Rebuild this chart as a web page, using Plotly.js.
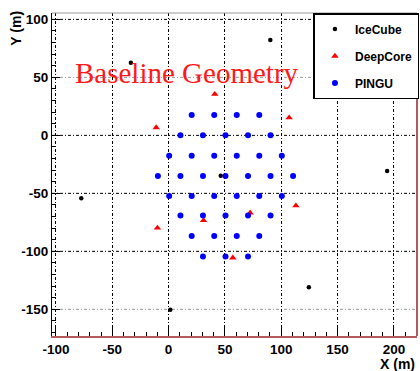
<!DOCTYPE html>
<html>
<head>
<meta charset="utf-8">
<script src="https://cdn.plot.ly/plotly-3.0.1.min.js"></script>
<style>html,body{margin:0;padding:0;background:#fff;}#chart{width:420px;height:371px;}</style>
</head>
<body>
<div id="chart"></div>
<script>
// IceCube strings in view (X, Y in m)
const iceX = [-33.5, 90.3, 194.0, -77.5, 1.5, 124.5, 46.3];
const iceY = [62.7, 82.2, -30.8, -54.3, -150.4, -130.9, -34.9];

// DeepCore strings
const deepX = [-11.0, 41.0, 107.0, -9.9, 31.0, 57.0, 113.0, 72.4];
const deepY = [6.7, 35.5, 15.2, -79.8, -73.4, -105.6, -60.6, -66.8];

// PINGU strings (row by row, top to bottom)
const pinguX = [
  20.5, 40.5, 60.5, 80.5,
  10.5, 30.5, 50.5, 70.5, 90.5,
  0.5, 20.5, 40.5, 60.5, 80.5, 100.5,
  -9.5, 10.5, 30.5, 50.5, 70.5, 90.5, 110.5,
  0.5, 20.5, 40.5, 60.5, 80.5, 100.5,
  10.5, 30.5, 50.5, 70.5, 90.5,
  20.5, 40.5, 60.5, 80.5,
  30.5, 50.5, 70.5
];
const pinguY = [
  17.5, 17.5, 17.5, 17.5,
  0, 0, 0, 0, 0,
  -17.6, -17.6, -17.6, -17.6, -17.6, -17.6,
  -35, -35, -35, -35, -35, -35, -35,
  -52.3, -52.3, -52.3, -52.3, -52.3, -52.3,
  -69.2, -69.2, -69.2, -69.2, -69.2,
  -86.8, -86.8, -86.8, -86.8,
  -104.5, -104.5, -104.5
];

const xTicks = [-100, -50, 0, 50, 100, 150, 200];
const yTicks = [100, 50, 0, -50, -100, -150];
const seriesNames = ['IceCube', 'DeepCore', 'PINGU'];
const titleText = 'Baseline Geometry';

const sans = 'Liberation Sans, Arial, sans-serif';
const gridDash = '3px,2px,1px,2px';
const lightGrid = new Set([50, -150]);

const traces = [
  {x: iceX, y: iceY, type: 'scatter', mode: 'markers', name: seriesNames[0], legendgroup: 'a',
   marker: {symbol: 'circle', size: 4.5, color: '#000000'}},
  {x: deepX, y: deepY, type: 'scatter', mode: 'markers', name: seriesNames[1], legendgroup: 'b',
   marker: {symbol: 'triangle-up', size: 6.5, color: '#ff0000'}},
  {x: pinguX, y: pinguY, type: 'scatter', mode: 'markers', name: seriesNames[2], legendgroup: 'c',
   marker: {symbol: 'circle', size: 6, color: '#0000ff'}}
];

const shapes = yTicks.map(v => ({
  type: 'line', xref: 'paper', x0: 0, x1: 1, yref: 'y', y0: v, y1: v, layer: 'below',
  line: {color: lightGrid.has(v) ? '#9a9a9a' : '#000000', width: 1, dash: gridDash}
}));
shapes.push({type: 'line', xref: 'paper', yref: 'paper', x0: 0, x1: 1, y0: 1, y1: 1,
  line: {color: '#9a9a9a', width: 1}});
shapes.push({type: 'line', xref: 'paper', yref: 'paper', x0: 1, x1: 1, y0: 0, y1: 1,
  line: {color: '#b35a5a', width: 2}});

const layout = {
  width: 420, height: 371,
  margin: {l: 52, r: 2, t: 13, b: 35, pad: 0},
  paper_bgcolor: '#ffffff', plot_bgcolor: '#ffffff',
  showlegend: true,
  legend: {x: 1.004, xanchor: 'right', y: 1, yanchor: 'top', bgcolor: '#ffffff',
    bordercolor: '#000000', borderwidth: 1.5, tracegroupgap: 8,
    font: {family: sans, size: 12, color: '#000', weight: 'bold'}},
  xaxis: {
    range: [-103.5, 220.5], tickvals: xTicks, ticktext: xTicks.map(String),
    ticks: 'inside', ticklen: 8, tickwidth: 1, tickcolor: '#000',
    minor: {ticks: 'inside', dtick: 10, tick0: 0, ticklen: 4, tickcolor: '#000', showgrid: false},
    showgrid: true, gridcolor: '#000', gridwidth: 1, griddash: gridDash,
    zeroline: false, showline: true, linecolor: '#b35a5a', linewidth: 2,
    tickfont: {family: sans, size: 13.5, color: '#000', weight: 'bold'}
  },
  yaxis: {
    range: [-173, 105.5], tickvals: yTicks, ticktext: yTicks.map(String),
    ticks: 'inside', ticklen: 8, tickwidth: 1, tickcolor: '#000',
    minor: {ticks: 'inside', dtick: 10, tick0: 0, ticklen: 4, tickcolor: '#000', showgrid: false},
    showgrid: false, zeroline: false, showline: true, linecolor: '#000', linewidth: 1,
    tickfont: {family: sans, size: 13.5, color: '#000', weight: 'bold'}
  },
  shapes: shapes,
  annotations: [
    {text: titleText, xref: 'paper', yref: 'paper', x: 0.369, y: 0.814, xanchor: 'center', yanchor: 'middle',
     showarrow: false, font: {family: 'Liberation Serif, Times New Roman, serif', size: 29, color: '#ff1a1a'}},
    {text: 'Y (m)', xref: 'paper', yref: 'paper', x: -0.101, y: 0.952, xanchor: 'center', yanchor: 'middle',
     textangle: -90, showarrow: false, font: {family: sans, size: 14, color: '#000', weight: 'bold'}},
    {text: 'X (m)', xref: 'paper', yref: 'paper', x: 1, y: -0.087, xanchor: 'right', yanchor: 'middle',
     showarrow: false, font: {family: sans, size: 14, color: '#000', weight: 'bold'}}
  ]
};

Plotly.newPlot('chart', traces, layout, {displayModeBar: false, staticPlot: true});
</script>
</body>
</html>
